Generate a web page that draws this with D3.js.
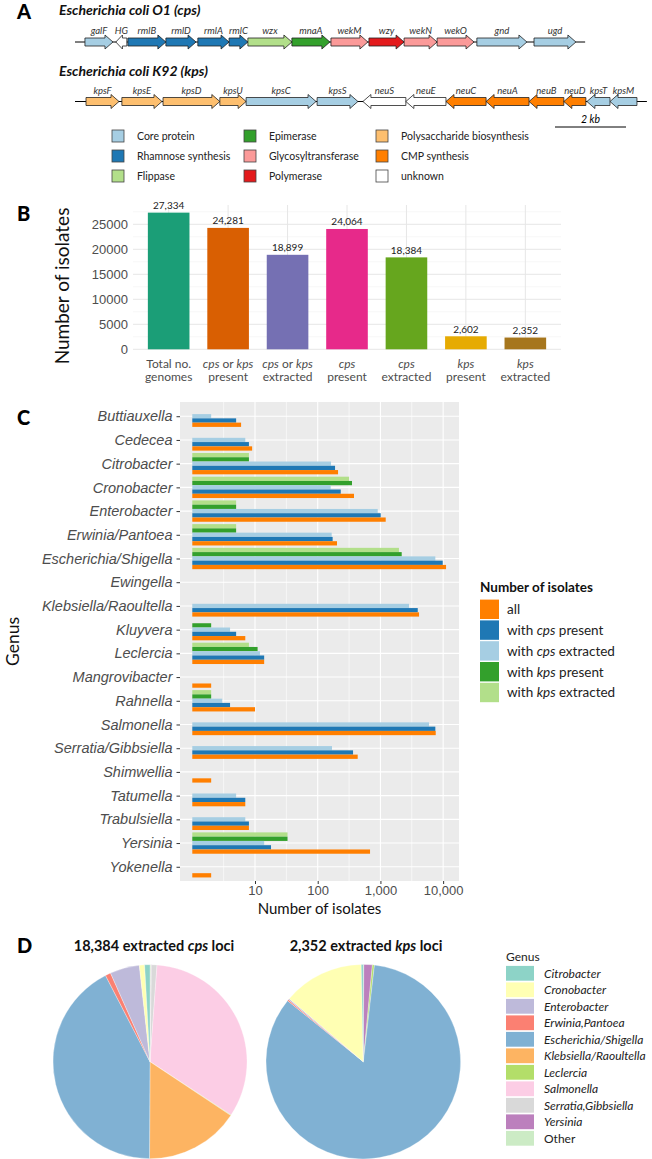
<!DOCTYPE html>
<html>
<head>
<meta charset="utf-8">
<title></title>
<style>
    body { margin: 0; background: #fff; }
    svg { display: block; font-family: Lato, "Open Sans", sans-serif; }
    .tag { font-weight: 900; font-size: 20px; fill: #000; }
    .locus-title { font-weight: bold; font-style: italic; font-size: 14px; fill: #111; }
    .gene-label { font-style: italic; font-size: 9.5px; fill: #333; }
    .leg-text { font-size: 10.5px; fill: #222; }
    .axis-text { fill: #4d4d4d; }
    .axis path { display: none; }
</style>
</head>
<body>
<script src="https://cdn.jsdelivr.net/npm/d3@7"></script>
<script>
// ---------- panel A: gene clusters (positions in kb) ----------
var geneTypes = ["Core protein", "Rhamnose synthesis", "Flippase", "Epimerase", "Glycosyltransferase",
    "Polymerase", "Polysaccharide biosynthesis", "CMP synthesis", "unknown"];
var geneColours = ["#a6cee3", "#1f78b4", "#b2df8a", "#33a02c", "#fb9a99", "#e31a1c", "#fdbf6f", "#ff7f00", "#ffffff"];

var o1Length = 14.37;
var o1Genes = [
    { name: "galF", start: 0.28, end: 1.07, strand: 1, type: "Core protein" },
    { name: "HG", start: 1.15, end: 1.46, strand: -1, type: "unknown" },
    { name: "rmlB", start: 1.49, end: 2.56, strand: 1, type: "Rhamnose synthesis" },
    { name: "rmlD", start: 2.56, end: 3.41, strand: 1, type: "Rhamnose synthesis" },
    { name: "rmlA", start: 3.46, end: 4.34, strand: 1, type: "Rhamnose synthesis" },
    { name: "rmlC", start: 4.34, end: 4.87, strand: 1, type: "Rhamnose synthesis" },
    { name: "wzx", start: 4.87, end: 6.11, strand: 1, type: "Flippase" },
    { name: "mnaA", start: 6.11, end: 7.18, strand: 1, type: "Epimerase" },
    { name: "wekM", start: 7.21, end: 8.25, strand: 1, type: "Glycosyltransferase" },
    { name: "wzy", start: 8.28, end: 9.27, strand: 1, type: "Polymerase" },
    { name: "wekN", start: 9.27, end: 10.20, strand: 1, type: "Glycosyltransferase" },
    { name: "wekO", start: 10.20, end: 11.24, strand: 1, type: "Glycosyltransferase" },
    { name: "gnd", start: 11.32, end: 12.73, strand: 1, type: "Core protein" },
    { name: "ugd", start: 12.93, end: 14.11, strand: 1, type: "Core protein" }
];

var k92Length = 16.11;
var k92Genes = [
    { name: "kpsF", start: 0.31, end: 1.24, strand: 1, type: "Polysaccharide biosynthesis" },
    { name: "kpsE", start: 1.32, end: 2.45, strand: 1, type: "Polysaccharide biosynthesis" },
    { name: "kpsD", start: 2.48, end: 4.08, strand: 1, type: "Polysaccharide biosynthesis" },
    { name: "kpsU", start: 4.08, end: 4.82, strand: 1, type: "Polysaccharide biosynthesis" },
    { name: "kpsC", start: 4.82, end: 6.79, strand: 1, type: "Core protein" },
    { name: "kpsS", start: 6.82, end: 7.97, strand: 1, type: "Core protein" },
    { name: "neuS", start: 8.11, end: 9.32, strand: -1, type: "unknown" },
    { name: "neuE", start: 9.32, end: 10.45, strand: -1, type: "unknown" },
    { name: "neuC", start: 10.45, end: 11.58, strand: -1, type: "CMP synthesis" },
    { name: "neuA", start: 11.58, end: 12.79, strand: -1, type: "CMP synthesis" },
    { name: "neuB", start: 12.79, end: 13.77, strand: -1, type: "CMP synthesis" },
    { name: "neuD", start: 13.77, end: 14.39, strand: -1, type: "CMP synthesis" },
    { name: "kpsT", start: 14.42, end: 15.07, strand: -1, type: "Core protein" },
    { name: "kpsM", start: 15.07, end: 15.83, strand: -1, type: "Core protein" }
];

// ---------- panel B ----------
var bCategories = ["Total no.|genomes", "<i>cps</i> or <i>kps</i>|present", "<i>cps</i> or <i>kps</i>|extracted",
    "<i>cps</i>|present", "<i>cps</i>|extracted", "<i>kps</i>|present", "<i>kps</i>|extracted"];
var bValues = [27334, 24281, 18899, 24064, 18384, 2602, 2352];
var bColours = ["#1b9e77", "#d95f02", "#7570b3", "#e7298a", "#66a61e", "#e6ab02", "#a6761d"];
var bTicks = [0, 5000, 10000, 15000, 20000, 25000];

// ---------- panel C ----------
var genera = ["Buttiauxella", "Cedecea", "Citrobacter", "Cronobacter", "Enterobacter", "Erwinia/Pantoea",
    "Escherichia/Shigella", "Ewingella", "Klebsiella/Raoultella", "Kluyvera", "Leclercia", "Mangrovibacter",
    "Rahnella", "Salmonella", "Serratia/Gibbsiella", "Shimwellia", "Tatumella", "Trabulsiella", "Yersinia", "Yokenella"];
var cAll = [6, 9, 211, 379, 1214, 203, 11130, 1, 4130, 7, 14, 2, 10, 7620, 434, 2, 7, 8, 683, 2];
var cCpsPresent = [5, 8, 189, 233, 1011, 173, 9850, 0, 3937, 5, 14, 0, 4, 7510, 366, 0, 7, 8, 18, 0];
var cCpsExtracted = [2, 7, 163, 161, 905, 167, 7510, 0, 2858, 4, 12, 0, 3, 5960, 169, 0, 5, 7, 14, 0];
var cKpsPresent = [0, 0, 8, 352, 5, 5, 2184, 0, 0, 2, 11, 0, 2, 0, 0, 0, 0, 0, 33, 0];
var cKpsExtracted = [0, 0, 8, 316, 5, 5, 1975, 0, 0, 0, 8, 0, 2, 0, 0, 0, 0, 0, 33, 0];
var cSeries = ["all", "with <i>cps</i> present", "with <i>cps</i> extracted", "with <i>kps</i> present", "with <i>kps</i> extracted"];
var cColours = ["#ff7f00", "#1f78b4", "#a6cee3", "#33a02c", "#b2df8a"];
var cTicks = [10, 100, 1000, 10000];

// ---------- panel D ----------
var pieGenus = ["Citrobacter", "Cronobacter", "Enterobacter", "Erwinia,Pantoea", "Escherichia/Shigella",
    "Klebsiella/Raoultella", "Leclercia", "Salmonella", "Serratia,Gibbsiella", "Yersinia", "Other"];
var pieColours = ["#8dd3c7", "#ffffb3", "#bebada", "#fb8072", "#80b1d3", "#fdb462", "#b3de69", "#fccde5", "#d9d9d9", "#bc80bd", "#ccebc5"];
var cpsPie = [163, 161, 905, 167, 7800, 2900, 12, 6100, 169, 14, 30];
var kpsPie = [8, 316, 5, 5, 1975, 0, 8, 0, 0, 33, 2];

var width = 652, height = 1159;

var svg = d3.select("body").append("svg")
    .attr("width", width)
    .attr("height", height);

svg.append("rect").attr("width", width).attr("height", height).attr("fill", "#fff");

// text with <i>..</i> segments
function richText(sel, str) {
    str.split(/(<i>.*?<\/i>)/).forEach(function(part) {
        if (!part) return;
        var it = /^<i>/.test(part);
        sel.append("tspan")
            .style("font-style", it ? "italic" : null)
            .text(part.replace(/<\/?i>/g, ""));
    });
}

function tag(letter, x, y) {
    svg.append("text").attr("class", "tag").attr("x", x).attr("y", y).text(letter);
}

// ================= A =================
tag("A", 17, 19);

var kb = d3.scaleLinear().domain([0, 2]).range([0, 71]);
var typeColour = d3.scaleOrdinal().domain(geneTypes).range(geneColours);

function arrowPath(x0, x1, y, strand) {
    var len = x1 - x0, h = Math.min(8, len * 0.6), b = 4, w = 7;
    var pts;
    if (strand > 0) {
        pts = [[x0, y - b], [x1 - h, y - b], [x1 - h, y - w], [x1, y], [x1 - h, y + w], [x1 - h, y + b], [x0, y + b]];
    } else {
        pts = [[x1, y - b], [x0 + h, y - b], [x0 + h, y - w], [x0, y], [x0 + h, y + w], [x0 + h, y + b], [x1, y + b]];
    }
    return d3.line()(pts) + "Z";
}

function drawLocus(genes, len, x0, y, title, titleY) {
    var g = svg.append("g");
    g.append("text").attr("class", "locus-title").attr("x", 59).attr("y", titleY).text(title);
    g.append("line")
        .attr("x1", x0).attr("x2", x0 + kb(len))
        .attr("y1", y).attr("y2", y)
        .attr("stroke", "#000").attr("stroke-width", 1);
    g.selectAll("path.gene")
        .data(genes)
        .enter().append("path")
        .attr("class", "gene")
        .attr("d", function(d) { return arrowPath(x0 + kb(d.start), x0 + kb(d.end), y, d.strand); })
        .attr("fill", function(d) { return typeColour(d.type); })
        .attr("stroke", "#222")
        .attr("stroke-width", 0.8);
    g.selectAll("text.gene-label")
        .data(genes)
        .enter().append("text")
        .attr("class", "gene-label")
        .attr("x", function(d) { return x0 + kb((d.start + d.end) / 2); })
        .attr("y", y - 8)
        .attr("text-anchor", "middle")
        .text(function(d) { return d.name; });
}

drawLocus(o1Genes, o1Length, 75, 42, "Escherichia coli O1 (cps)", 15);
drawLocus(k92Genes, k92Length, 75, 101.5, "Escherichia coli K92 (kps)", 76);

// scale bar
svg.append("line")
    .attr("x1", 555).attr("x2", 555 + kb(2))
    .attr("y1", 127).attr("y2", 127)
    .attr("stroke", "#000").attr("stroke-width", 1);
svg.append("text")
    .attr("x", 555 + kb(1)).attr("y", 123)
    .attr("text-anchor", "middle")
    .style("font-style", "italic").style("font-size", "10.5px")
    .text("2 kb");

// legend A (3 columns x 3 rows)
var legA = svg.append("g").selectAll("g")
    .data(geneTypes)
    .enter().append("g")
    .attr("transform", function(d, i) {
        var col = Math.floor(i / 3), row = i % 3;
        return "translate(" + [112, 244, 376][col] + "," + (136 + row * 20) + ")";
    });
legA.append("rect")
    .attr("x", 0).attr("y", -6).attr("width", 12).attr("height", 12)
    .attr("fill", function(d) { return typeColour(d); })
    .attr("stroke", "#444").attr("stroke-width", 0.8);
legA.append("text")
    .attr("class", "leg-text")
    .attr("x", 25).attr("y", 4)
    .text(function(d) { return d; });

// ================= B =================
tag("B", 17, 221);

var bx = d3.scalePoint().domain(bCategories).range([133, 561]).padding(0.6);
var by = d3.scaleLinear().domain([0, 28860]).range([349.3, 205]);
var bw = bx.step() * 0.7;

var gB = svg.append("g");

// grid
var bMinor = d3.range(2500, 28860, 5000);
gB.selectAll("line.minor").data(bMinor).enter().append("line")
    .attr("x1", 133).attr("x2", 561)
    .attr("y1", function(d) { return by(d); }).attr("y2", function(d) { return by(d); })
    .attr("stroke", "#f0f0f0").attr("stroke-width", 0.6);
gB.selectAll("line.major").data(bTicks).enter().append("line")
    .attr("x1", 133).attr("x2", 561)
    .attr("y1", function(d) { return by(d); }).attr("y2", function(d) { return by(d); })
    .attr("stroke", "#e6e6e6").attr("stroke-width", 1);
gB.selectAll("line.vgrid").data(bCategories).enter().append("line")
    .attr("x1", function(d) { return bx(d); }).attr("x2", function(d) { return bx(d); })
    .attr("y1", 205).attr("y2", 349.3)
    .attr("stroke", "#e6e6e6").attr("stroke-width", 1);

gB.selectAll("rect.bar")
    .data(bValues)
    .enter().append("rect")
    .attr("class", "bar")
    .attr("x", function(d, i) { return bx(bCategories[i]) - bw / 2; })
    .attr("width", bw)
    .attr("y", function(d) { return by(d); })
    .attr("height", function(d) { return by(0) - by(d); })
    .attr("fill", function(d, i) { return bColours[i]; });

gB.selectAll("text.val")
    .data(bValues)
    .enter().append("text")
    .attr("x", function(d, i) { return bx(bCategories[i]); })
    .attr("y", function(d) { return by(d) - 3.5; })
    .attr("text-anchor", "middle")
    .style("font-size", "10px").attr("fill", "#222")
    .text(function(d) { return d3.format(",")(d); });

var bAxis = gB.append("g").attr("class", "axis")
    .attr("transform", "translate(133,0)")
    .call(d3.axisLeft(by).tickValues(bTicks).tickSize(0).tickPadding(5).tickFormat(d3.format("d")));
bAxis.selectAll("text").attr("class", "axis-text").style("font-size", "13px").attr("font-family", null);

var bLab = gB.selectAll("g.xlab").data(bCategories).enter().append("g")
    .attr("transform", function(d) { return "translate(" + bx(d) + ",0)"; });
bLab.each(function(d) {
    var lines = d.split("|");
    var g = d3.select(this);
    lines.forEach(function(l, k) {
        var t = g.append("text")
            .attr("class", "axis-text")
            .attr("y", 368 + k * 13)
            .attr("text-anchor", "middle")
            .style("font-size", "12px");
        richText(t, l);
    });
});

svg.append("text")
    .attr("transform", "translate(69,286) rotate(-90)")
    .attr("text-anchor", "middle")
    .style("font-size", "19px").attr("fill", "#111")
    .text("Number of isolates");

// ================= C =================
tag("C", 17, 425);

var cTop = 402, cBottom = 881, cLeft = 180, cRight = 459;
var cy = d3.scalePoint().domain(genera).range([cTop, cBottom]).padding(0.6);
var cx = d3.scaleLog().domain([Math.pow(10, -0.196), Math.pow(10, 4.253)]).range([cLeft, cRight]);
var slot = d3.scaleBand().domain(["kpsExt", "kpsPres", "cpsExt", "cpsPres", "all"])
    .range([-cy.step() * 0.45, cy.step() * 0.45]);

var cRows = genera.map(function(g, i) {
    return [
        { key: "kpsExt", v: cKpsExtracted[i], c: cColours[4] },
        { key: "kpsPres", v: cKpsPresent[i], c: cColours[3] },
        { key: "cpsExt", v: cCpsExtracted[i], c: cColours[2] },
        { key: "cpsPres", v: cCpsPresent[i], c: cColours[1] },
        { key: "all", v: cAll[i], c: cColours[0] }
    ].map(function(o) { o.genus = g; return o; });
});

var gC = svg.append("g");
gC.append("rect")
    .attr("x", cLeft).attr("y", cTop)
    .attr("width", cRight - cLeft).attr("height", cBottom - cTop)
    .attr("fill", "#ebebeb");

var cMinor = [1, 10, 100, 1000, 10000].map(function(d) { return d * Math.sqrt(10); })
    .filter(function(d) { return cx(d) < cRight; });
gC.selectAll("line.cmin").data(cMinor).enter().append("line")
    .attr("x1", function(d) { return cx(d); }).attr("x2", function(d) { return cx(d); })
    .attr("y1", cTop).attr("y2", cBottom)
    .attr("stroke", "#fff").attr("stroke-width", 0.6);
gC.selectAll("line.cmaj").data(cTicks).enter().append("line")
    .attr("x1", function(d) { return cx(d); }).attr("x2", function(d) { return cx(d); })
    .attr("y1", cTop).attr("y2", cBottom)
    .attr("stroke", "#fff").attr("stroke-width", 1.1);
gC.selectAll("line.hgrid").data(genera).enter().append("line")
    .attr("x1", cLeft).attr("x2", cRight)
    .attr("y1", function(d) { return cy(d); }).attr("y2", function(d) { return cy(d); })
    .attr("stroke", "#fff").attr("stroke-width", 1.1);

gC.selectAll("g.grp")
    .data(cRows)
    .enter().append("g")
    .selectAll("rect")
    .data(function(d) { return d.filter(function(o) { return o.v > 0; }); })
    .enter().append("rect")
    .attr("x", cx(1))
    .attr("y", function(d) { return cy(d.genus) + slot(d.key); })
    .attr("height", slot.bandwidth())
    .attr("width", function(d) { return cx(d.v) - cx(1); })
    .attr("fill", function(d) { return d.c; });

var cyAxis = gC.append("g").attr("class", "axis")
    .attr("transform", "translate(" + cLeft + ",0)")
    .call(d3.axisLeft(cy).tickSize(3.5).tickPadding(4));
cyAxis.selectAll("line").attr("stroke", "#333");
cyAxis.selectAll("text").attr("class", "axis-text").attr("font-family", null)
    .style("font-size", "14.5px").style("font-style", "italic").attr("fill", "#4d4d4d");

var cxAxis = gC.append("g").attr("class", "axis")
    .attr("transform", "translate(0," + cBottom + ")")
    .call(d3.axisBottom(cx).tickValues(cTicks).tickSize(3).tickPadding(2).tickFormat(d3.format(",")));
cxAxis.selectAll("line").attr("stroke", "#333");
cxAxis.selectAll("text").attr("class", "axis-text").attr("font-family", null).style("font-size", "13px");

svg.append("text")
    .attr("x", (cLeft + cRight) / 2).attr("y", 914)
    .attr("text-anchor", "middle")
    .style("font-size", "15px").attr("fill", "#111")
    .text("Number of isolates");

svg.append("text")
    .attr("transform", "translate(19," + ((cTop + cBottom) / 2) + ") rotate(-90)")
    .attr("text-anchor", "middle")
    .style("font-size", "17.5px").attr("fill", "#111")
    .text("Genus");

// legend C
var legC = svg.append("g").attr("transform", "translate(480,0)");
legC.append("text").attr("x", 0).attr("y", 592)
    .style("font-weight", "bold").style("font-size", "13.5px").attr("fill", "#111")
    .text("Number of isolates");
var legCItems = legC.selectAll("g.item").data(cSeries).enter().append("g")
    .attr("transform", function(d, i) { return "translate(0," + (609.3 + i * 20.8) + ")"; });
legCItems.append("rect")
    .attr("x", 0).attr("y", -9.7).attr("width", 19).attr("height", 19.4)
    .attr("fill", function(d, i) { return cColours[i]; });
legCItems.append("text")
    .attr("x", 27).attr("y", 4.8)
    .style("font-size", "13.5px").attr("fill", "#222")
    .each(function(d) { richText(d3.select(this), d); });

// ================= D =================
tag("D", 17, 953);

var pie = d3.pie().sort(null).value(function(d) { return d.v; });

function drawPie(values, cx0, cy0, r, title, titleX) {
    var data = pieGenus.map(function(g, i) { return { g: g, v: values[i], c: pieColours[i] }; }).reverse();
    var arc = d3.arc().innerRadius(0).outerRadius(r);
    svg.append("g")
        .attr("transform", "translate(" + cx0 + "," + cy0 + ")")
        .selectAll("path")
        .data(pie(data))
        .enter().append("path")
        .attr("d", arc)
        .attr("fill", function(d) { return d.data.c; })
        .attr("stroke", function(d) { return d.data.v > 0 ? "#fff" : "none"; })
        .attr("stroke-width", 0.3);
    var t = svg.append("text")
        .attr("x", titleX).attr("y", 951)
        .attr("text-anchor", "middle")
        .style("font-weight", "bold").style("font-size", "14.5px").attr("fill", "#111");
    richText(t, title);
}

drawPie(cpsPie, 150, 1061.7, 97, "18,384 extracted <i>cps</i> loci", 154);
drawPie(kpsPie, 363.3, 1061.7, 97.3, "2,352 extracted <i>kps</i> loci", 366);

// legend D
var legD = svg.append("g").attr("transform", "translate(506,0)");
legD.append("text").attr("x", 0).attr("y", 961)
    .style("font-size", "12px").attr("fill", "#222")
    .text("Genus");
var legDItems = legD.selectAll("g.item").data(pieGenus).enter().append("g")
    .attr("transform", function(d, i) { return "translate(0," + (973.3 + i * 16.5) + ")"; });
legDItems.append("rect")
    .attr("x", 0).attr("y", -7.4).attr("width", 28).attr("height", 14.8)
    .attr("fill", function(d, i) { return pieColours[i]; });
legDItems.append("text")
    .attr("x", 38).attr("y", 4.2)
    .style("font-size", "12px")
    .style("font-style", function(d) { return d === "Other" ? "normal" : "italic"; })
    .attr("fill", "#222")
    .text(function(d) { return d; });
</script>
</body>
</html>
